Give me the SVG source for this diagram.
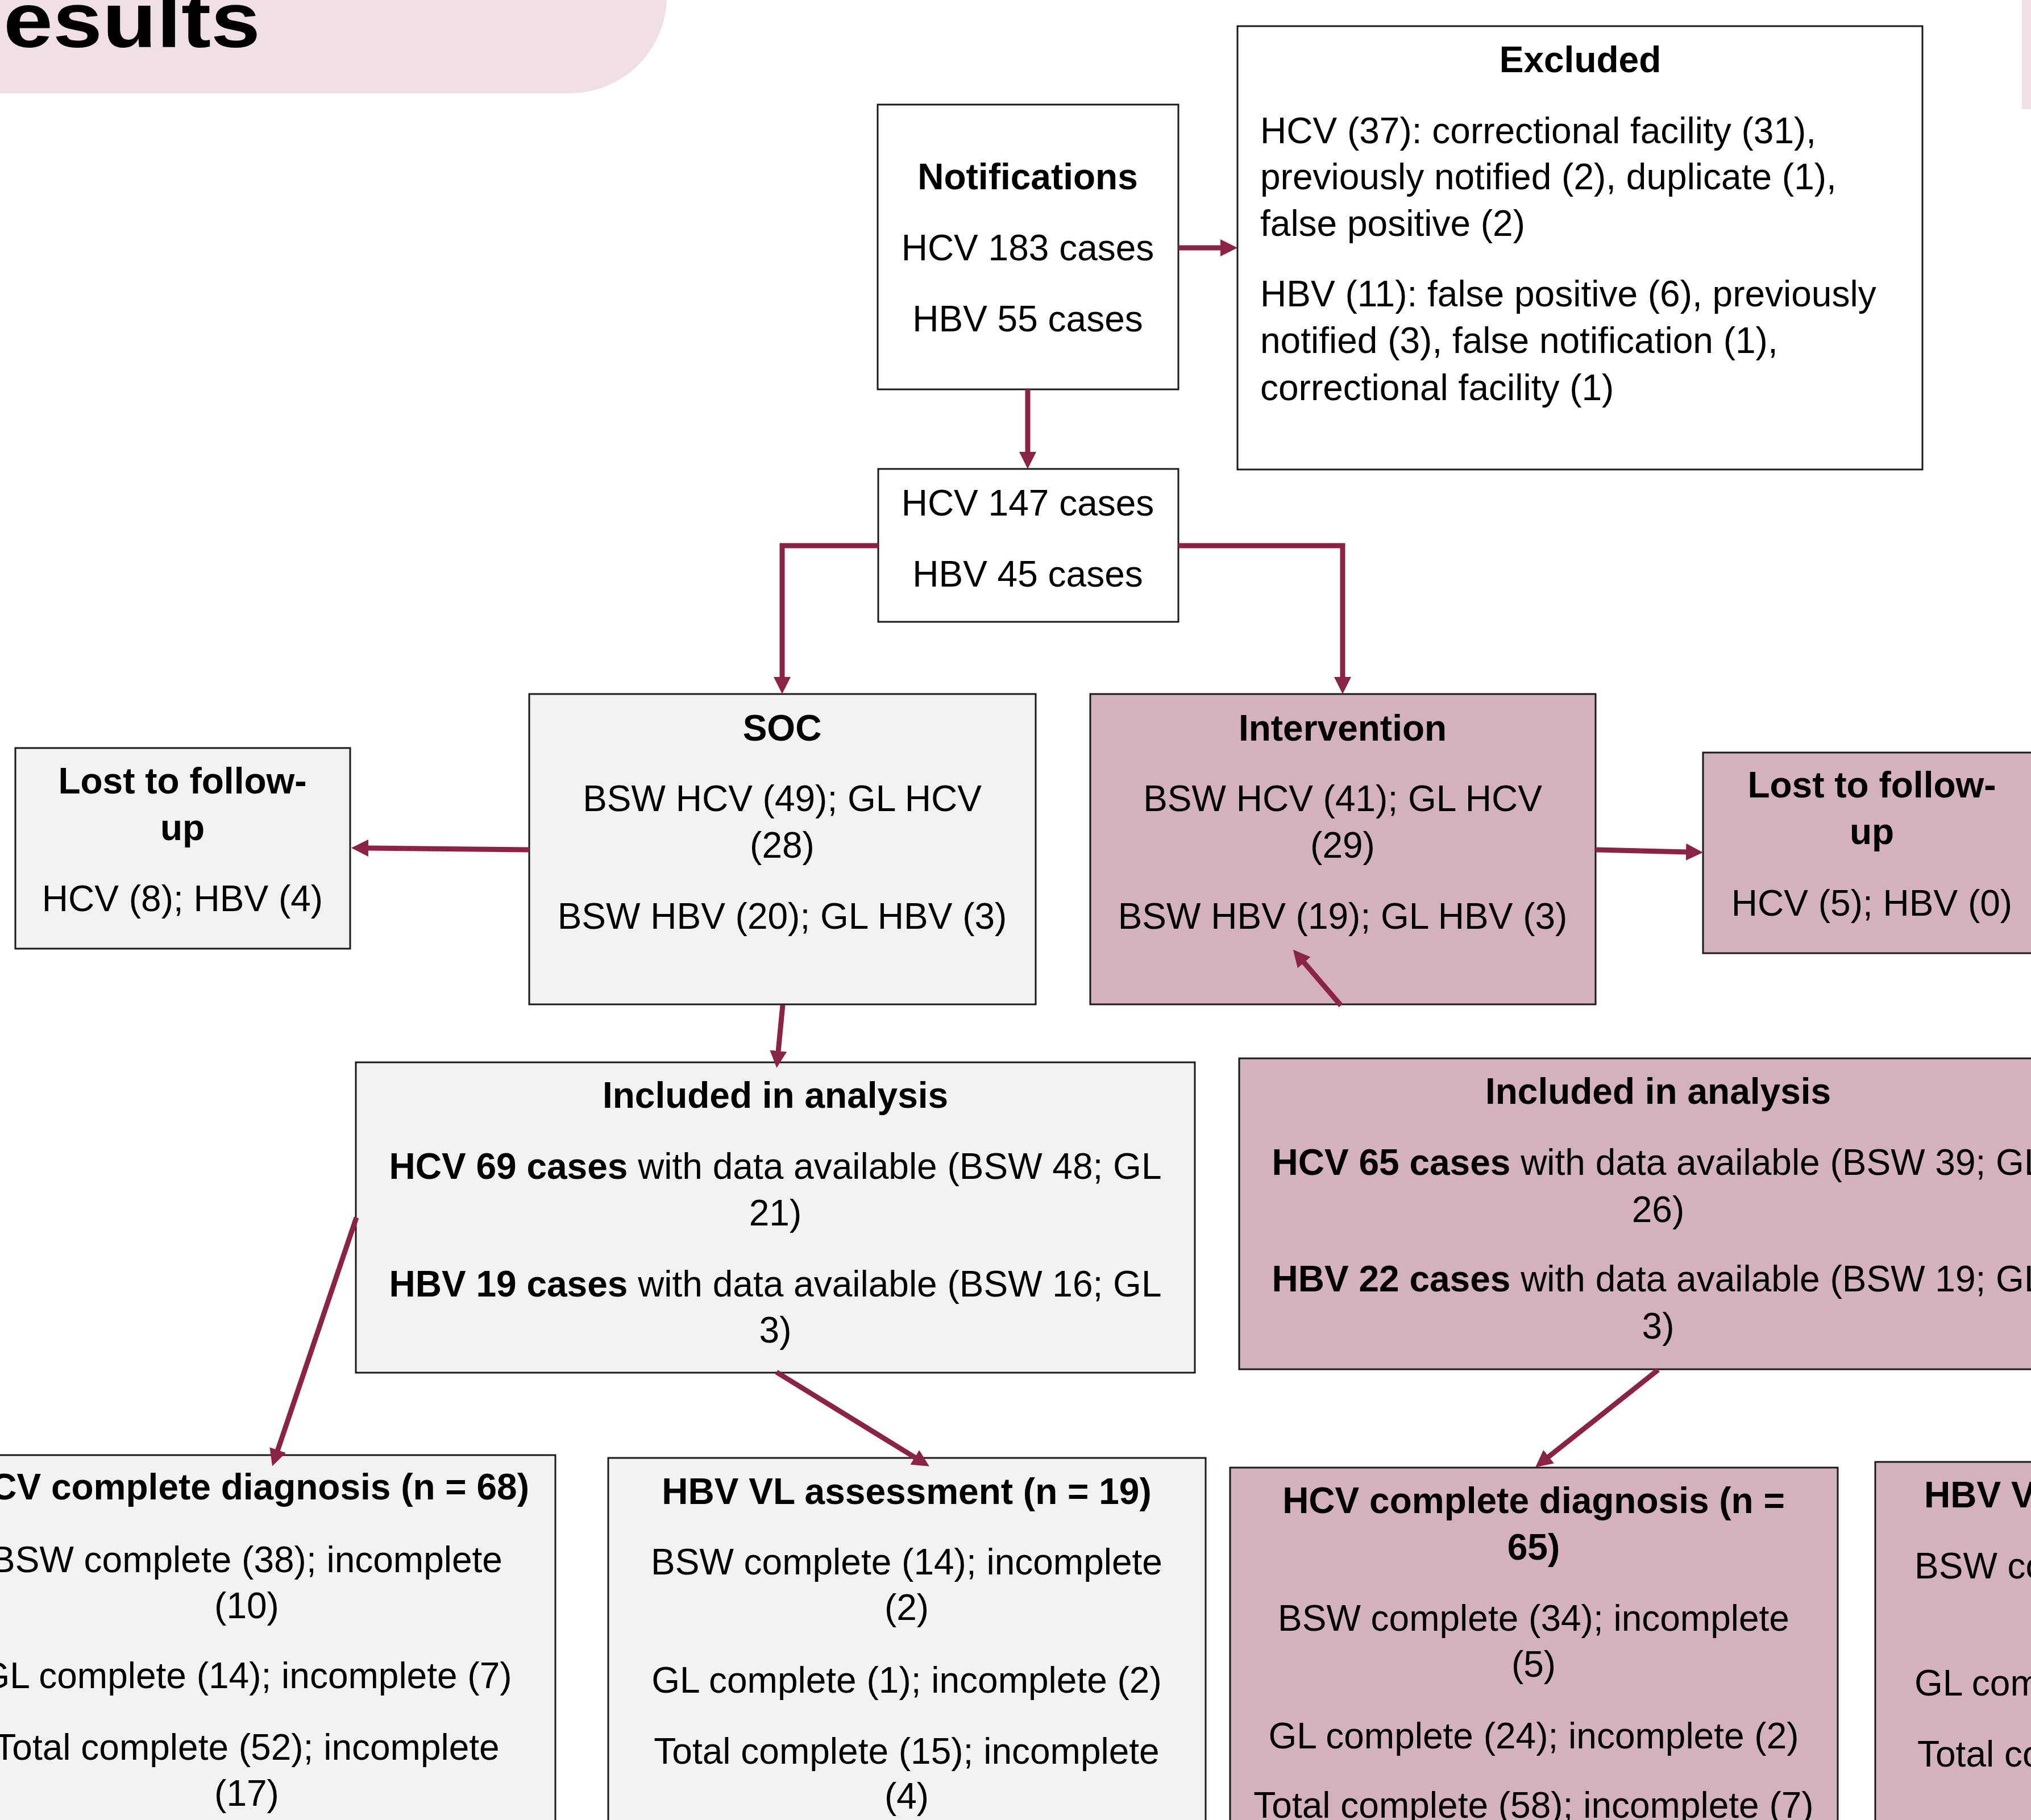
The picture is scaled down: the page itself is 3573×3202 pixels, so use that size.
<svg xmlns="http://www.w3.org/2000/svg" width="3573" height="3202" viewBox="0 0 3573 3202">
<defs>
<style>
.t{font-family:"Liberation Sans",Arial,sans-serif;font-size:64px;fill:#000}
.c{text-anchor:middle}
.b{font-weight:bold}
.box{stroke:#1a1a1a;stroke-width:3}
.w{fill:#ffffff}
.g{fill:#f2f2f2}
.p{fill:#d3b2bd}
.con{fill:none;stroke:#8b2346;stroke-width:9}
</style>
<marker id="ah" markerUnits="userSpaceOnUse" markerWidth="30" markerHeight="30" viewBox="0 0 30 30" refX="2" refY="15" orient="auto"><path d="M0,0 L30,15 L0,30 z" fill="#8b2346"/></marker>
</defs>
<rect x="0" y="0" width="3573" height="3202" fill="#ffffff"/>
<g id="title">
<rect x="-200" y="-200" width="1373" height="364" rx="170" fill="#f0dfe6"/>
<text x="6" y="83" font-family="Liberation Sans, Arial, sans-serif" font-weight="bold" font-size="138" textLength="452" lengthAdjust="spacingAndGlyphs">esults</text>
<rect x="3557" y="-200" width="200" height="392" fill="#f0dfe6"/>
</g>
<g id="notifications">
<rect class="box w" x="1544" y="184" width="529" height="501"/>
<text class="t c b" x="1808" y="333">Notifications</text>
<text class="t c" x="1808" y="458">HCV 183 cases</text>
<text class="t c" x="1808" y="583">HBV 55 cases</text>
</g>
<g id="excluded">
<rect class="box w" x="2177" y="46" width="1205" height="780"/>
<text class="t c b" x="2780" y="127">Excluded</text>
<text class="t" x="2217" y="252">HCV (37): correctional facility (31),</text>
<text class="t" x="2217" y="333">previously notified (2), duplicate (1),</text>
<text class="t" x="2217" y="415">false positive (2)</text>
<text class="t" x="2217" y="539">HBV (11): false positive (6), previously</text>
<text class="t" x="2217" y="621">notified (3), false notification (1),</text>
<text class="t" x="2217" y="704">correctional facility (1)</text>
</g>
<g id="eligible">
<rect class="box w" x="1545" y="825" width="528" height="269"/>
<text class="t c" x="1808" y="907">HCV 147 cases</text>
<text class="t c" x="1808" y="1032">HBV 45 cases</text>
</g>
<g id="soc">
<rect class="box g" x="931" y="1221" width="891" height="546"/>
<text class="t c b" x="1376" y="1303">SOC</text>
<text class="t c" x="1376" y="1427">BSW HCV (49); GL HCV</text>
<text class="t c" x="1376" y="1509">(28)</text>
<text class="t c" x="1376" y="1634">BSW HBV (20); GL HBV (3)</text>
</g>
<g id="lost-soc">
<rect class="box g" x="27" y="1316" width="589" height="353"/>
<text class="t c b" x="321" y="1396">Lost to follow-</text>
<text class="t c b" x="321" y="1478">up</text>
<text class="t c" x="321" y="1603">HCV (8); HBV (4)</text>
</g>
<g id="intervention">
<rect class="box p" x="1918" y="1221" width="889" height="546"/>
<text class="t c b" x="2362" y="1303">Intervention</text>
<text class="t c" x="2362" y="1427">BSW HCV (41); GL HCV</text>
<text class="t c" x="2362" y="1509">(29)</text>
<text class="t c" x="2362" y="1634">BSW HBV (19); GL HBV (3)</text>
</g>
<g id="lost-int">
<rect class="box p" x="2996" y="1324" width="700" height="353"/>
<text class="t c b" x="3293" y="1403">Lost to follow-</text>
<text class="t c b" x="3293" y="1485">up</text>
<text class="t c" x="3293" y="1611">HCV (5); HBV (0)</text>
</g>
<g id="included-soc">
<rect class="box g" x="626" y="1869" width="1476" height="546"/>
<text class="t c b" x="1364" y="1949">Included in analysis</text>
<text class="t c" x="1364" y="2074"><tspan font-weight="bold">HCV 69 cases</tspan> with data available (BSW 48; GL</text>
<text class="t c" x="1364" y="2156">21)</text>
<text class="t c" x="1364" y="2281"><tspan font-weight="bold">HBV 19 cases</tspan> with data available (BSW 16; GL</text>
<text class="t c" x="1364" y="2362">3)</text>
</g>
<g id="included-int">
<rect class="box p" x="2180" y="1862" width="1474" height="547"/>
<text class="t c b" x="2917" y="1942">Included in analysis</text>
<text class="t c" x="2917" y="2067"><tspan font-weight="bold">HCV 65 cases</tspan> with data available (BSW 39; GL</text>
<text class="t c" x="2917" y="2150">26)</text>
<text class="t c" x="2917" y="2272"><tspan font-weight="bold">HBV 22 cases</tspan> with data available (BSW 19; GL</text>
<text class="t c" x="2917" y="2355">3)</text>
</g>
<g id="hcv-soc">
<rect class="box g" x="-110" y="2560" width="1087" height="700"/>
<text class="t c b" x="434" y="2638">HCV complete diagnosis (n = 68)</text>
<text class="t c" x="434" y="2766">BSW complete (38); incomplete</text>
<text class="t c" x="434" y="2847">(10)</text>
<text class="t c" x="434" y="2970">GL complete (14); incomplete (7)</text>
<text class="t c" x="434" y="3096">Total complete (52); incomplete</text>
<text class="t c" x="434" y="3177">(17)</text>
</g>
<g id="hbv-soc">
<rect class="box g" x="1070" y="2565" width="1051" height="700"/>
<text class="t c b" x="1595" y="2646">HBV VL assessment (n = 19)</text>
<text class="t c" x="1595" y="2770">BSW complete (14); incomplete</text>
<text class="t c" x="1595" y="2850">(2)</text>
<text class="t c" x="1595" y="2978">GL complete (1); incomplete (2)</text>
<text class="t c" x="1595" y="3103">Total complete (15); incomplete</text>
<text class="t c" x="1595" y="3182">(4)</text>
</g>
<g id="hcv-int">
<rect class="box p" x="2164" y="2582" width="1069" height="700"/>
<text class="t c b" x="2698" y="2662">HCV complete diagnosis (n =</text>
<text class="t c b" x="2698" y="2744">65)</text>
<text class="t c" x="2698" y="2869">BSW complete (34); incomplete</text>
<text class="t c" x="2698" y="2950">(5)</text>
<text class="t c" x="2698" y="3076">GL complete (24); incomplete (2)</text>
<text class="t c" x="2698" y="3198">Total complete (58); incomplete (7)</text>
</g>
<g id="hbv-int">
<rect class="box p" x="3299" y="2572" width="600" height="700"/>
<text class="t b" x="3385" y="2652">HBV V</text>
<text class="t" x="3368" y="2777">BSW co</text>
<text class="t" x="3368" y="2983">GL com</text>
<text class="t" x="3373" y="3108">Total co</text>
</g>
<g id="connectors">
<path class="con" d="M2073,436 H2149" marker-end="url(#ah)"/>
<path class="con" d="M1808,685 V797" marker-end="url(#ah)"/>
<path class="con" d="M1545,960 H1376 V1193" marker-end="url(#ah)"/>
<path class="con" d="M2073,960 H2362 V1193" marker-end="url(#ah)"/>
<path class="con" d="M931,1495 L646,1492" marker-end="url(#ah)"/>
<path class="con" d="M2807,1495 L2968,1499" marker-end="url(#ah)"/>
<path class="con" d="M2359,1769 L2293,1692" marker-end="url(#ah)"/>
<path class="con" d="M1377,1768 L1369,1851" marker-end="url(#ah)"/>
<path class="con" d="M627,2142 L488,2553" marker-end="url(#ah)"/>
<path class="con" d="M1366,2414 L1611,2565" marker-end="url(#ah)"/>
<path class="con" d="M2917,2410 L2723,2564" marker-end="url(#ah)"/>
</g>
</svg>
